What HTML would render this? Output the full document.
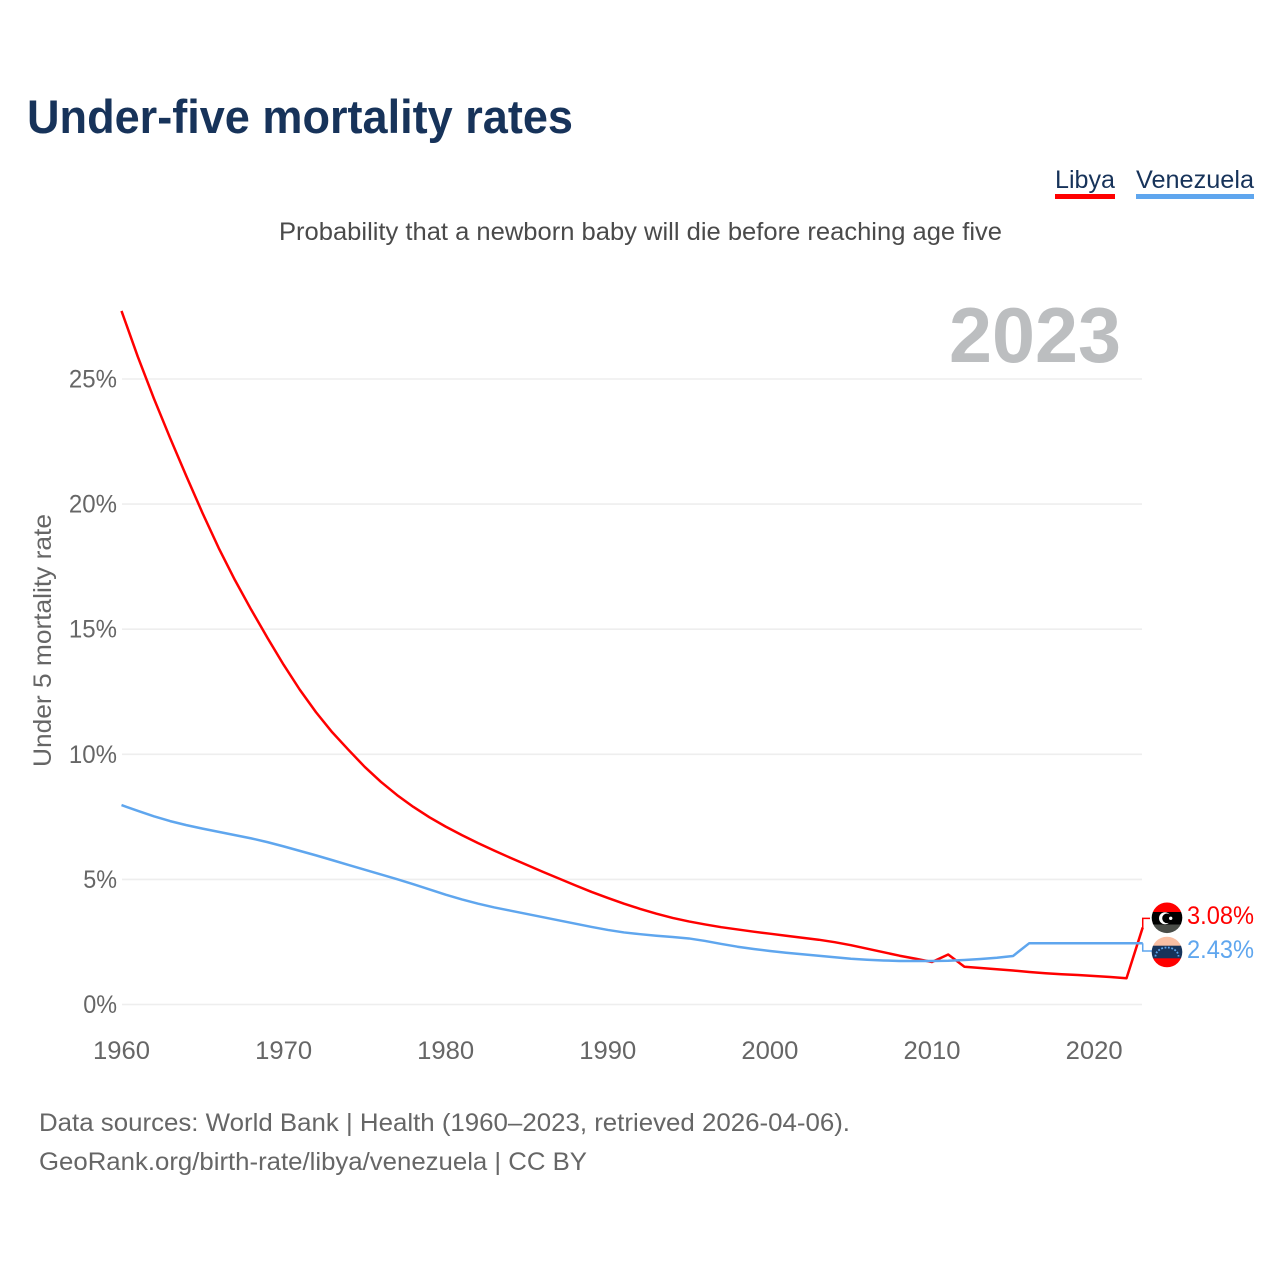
<!DOCTYPE html>
<html lang="en">
<head>
<meta charset="utf-8">
<title>Under-five mortality rates</title>
<style>
html,body{margin:0;padding:0;background:#fff;}
svg{display:block;font-family:"Liberation Sans",sans-serif;}
</style>
</head>
<body>
<svg id="chart" xmlns="http://www.w3.org/2000/svg" width="1280" height="1280" viewBox="0 0 1280 1280">
  <defs>
    <clipPath id="flag-clip-a"><circle cx="1167" cy="917.8" r="15.3"/></clipPath>
    <clipPath id="flag-clip-b"><circle cx="1167" cy="952" r="15.3"/></clipPath>
  </defs>
  <rect width="1280" height="1280" fill="#fff"/>
  <text x="27" y="133" font-size="47" font-weight="700" fill="#17335a" textLength="546" lengthAdjust="spacingAndGlyphs">Under-five mortality rates</text>
  <text x="279" y="240" font-size="25" fill="#4a4a4a" textLength="723" lengthAdjust="spacingAndGlyphs">Probability that a newborn baby will die before reaching age five</text>

  <g>
    <text x="1055" y="188" font-size="25" fill="#17335a" textLength="60" lengthAdjust="spacingAndGlyphs">Libya</text>
    <rect x="1055" y="194" width="60" height="5" fill="#ff0000"/>
  </g>
  <g>
    <text x="1136" y="188" font-size="25" fill="#17335a" textLength="118" lengthAdjust="spacingAndGlyphs">Venezuela</text>
    <rect x="1136" y="194" width="118" height="5" fill="#5fa6ee"/>
  </g>

  <text x="949" y="362" font-size="78" font-weight="700" fill="#bcbec0" textLength="172" lengthAdjust="spacingAndGlyphs">2023</text>
  <text transform="translate(51,767) rotate(-90)" font-size="25" fill="#666" textLength="253" lengthAdjust="spacingAndGlyphs">Under 5 mortality rate</text>

  <g id="grid"></g>
  <g id="yticks"></g>
  <g id="xticks"></g>
  <g id="series"></g>

  <g clip-path="url(#flag-clip-a)">
    <rect x="1151" y="902" width="32" height="10" fill="#ff0000"/>
    <rect x="1151" y="912" width="32" height="13" fill="#000"/>
    <rect x="1151" y="924.5" width="32" height="10" fill="#4a4d48"/>
    <circle cx="1165" cy="918.3" r="6" fill="#fff"/>
    <circle cx="1167" cy="918.3" r="4.8" fill="#000"/>
    <circle cx="1170.7" cy="918.3" r="1.7" fill="#fff"/>
  </g>
  <g clip-path="url(#flag-clip-b)">
    <rect x="1151" y="936" width="32" height="10" fill="#f9bfa3"/>
    <rect x="1151" y="945.7" width="32" height="12.8" fill="#17335a"/>
    <rect x="1151" y="958.3" width="32" height="10" fill="#ff0000"/>
    <path d="M1155.5 956.5 A11.5 9 0 0 1 1178.5 956.5" fill="none" stroke="#5fa6ee" stroke-width="1.8" stroke-dasharray="1.8 1.6"/>
  </g>
  <text id="label-libya" x="1187" y="924" font-size="25" fill="#ff0000" textLength="67" lengthAdjust="spacingAndGlyphs"></text>
  <text id="label-venezuela" x="1187" y="958" font-size="25" fill="#5fa6ee" textLength="67" lengthAdjust="spacingAndGlyphs"></text>

  <text x="39" y="1131" font-size="25" fill="#666" textLength="811" lengthAdjust="spacingAndGlyphs">Data sources: World Bank | Health (1960–2023, retrieved 2026-04-06).</text>
  <text x="39" y="1170" font-size="25" fill="#666" textLength="548" lengthAdjust="spacingAndGlyphs">GeoRank.org/birth-rate/libya/venezuela | CC BY</text>
</svg>
<script>
const startYear = 1960;
const libyaValues = [27.72,25.9,24.22,22.64,21.12,19.64,18.24,16.96,15.78,14.66,13.58,12.58,11.68,10.88,10.18,9.5,8.9,8.37,7.9,7.48,7.11,6.77,6.45,6.15,5.86,5.58,5.3,5.03,4.76,4.5,4.26,4.03,3.82,3.63,3.46,3.32,3.2,3.09,3.0,2.91,2.83,2.75,2.67,2.59,2.49,2.37,2.23,2.09,1.95,1.83,1.7,2.0,1.51,1.46,1.41,1.36,1.3,1.25,1.21,1.18,1.14,1.1,1.05,3.08];
const venezuelaValues = [7.97,7.74,7.52,7.33,7.17,7.03,6.9,6.77,6.64,6.49,6.32,6.14,5.96,5.77,5.58,5.39,5.2,5.01,4.81,4.6,4.39,4.2,4.03,3.88,3.75,3.62,3.49,3.36,3.23,3.1,2.98,2.88,2.81,2.75,2.7,2.64,2.54,2.42,2.31,2.22,2.14,2.07,2.01,1.95,1.89,1.83,1.79,1.76,1.74,1.74,1.74,1.75,1.78,1.82,1.87,1.94,2.45,2.45,2.45,2.45,2.45,2.45,2.45,2.45];
const yTickValues = [0,5,10,15,20,25];
const xTickValues = [1960,1970,1980,1990,2000,2010,2020];
const libyaLabel = "3.08%";
const venezuelaLabel = "2.43%";

const NS = "http://www.w3.org/2000/svg";
function xScale(year){ return 121.5 + (year - 1960) * 16.21; }
function yScale(v){ return 1004.5 - v * 25.02; }
function make(tag, attrs, parent){
  const el = document.createElementNS(NS, tag);
  for (const k in attrs) el.setAttribute(k, attrs[k]);
  parent.appendChild(el);
  return el;
}
const grid = document.getElementById("grid");
const yticks = document.getElementById("yticks");
const xticks = document.getElementById("xticks");
const series = document.getElementById("series");

yTickValues.forEach(function(v){
  const line = make("line", {x1:122, x2:1142, y1:yScale(v), y2:yScale(v), stroke:"#eeeeee", "stroke-width":1.6}, grid);
  
  
  const t = make("text", {x:117, y:yScale(v)+8.5, "font-size":25, fill:"#666", "text-anchor":"end", textLength:String(v).length*14.3+19.5, lengthAdjust:"spacingAndGlyphs"}, yticks);
  
  
  t.textContent = v + "%";
});
xTickValues.forEach(function(y){
  const t = make("text", {x:xScale(y), y:1059, "font-size":25, fill:"#666", "text-anchor":"middle", textLength:57, lengthAdjust:"spacingAndGlyphs"}, xticks);
  
  
  t.textContent = y;
});
function pathFrom(values){
  return values.map(function(v,i){
    return (i ? "L" : "M") + xScale(startYear + i).toFixed(2) + " " + yScale(v).toFixed(2);
  }).join(" ");
}
const common = {fill:"none", "stroke-width":2.5, "stroke-linejoin":"round"};
const libyaLine = make("path", Object.assign({d:pathFrom(libyaValues), stroke:"#ff0000"}, common), series);


const venLine = make("path", Object.assign({d:pathFrom(venezuelaValues), stroke:"#5fa6ee"}, common), series);



const endX = xScale(startYear + libyaValues.length - 1);
const libyaEnd = yScale(libyaValues[libyaValues.length - 1]);
const venEnd = yScale(venezuelaValues[venezuelaValues.length - 1]);
const libyaLeader = make("path", {d:"M"+endX+" "+libyaEnd+" V918.4 H1150", fill:"none", stroke:"#ff0000", "stroke-width":1.5}, series);


const venLeader = make("path", {d:"M"+endX+" "+venEnd+" V951 H1152", fill:"none", stroke:"#5fa6ee", "stroke-width":1.5}, series);



document.getElementById("label-libya").textContent = libyaLabel;
document.getElementById("label-venezuela").textContent = venezuelaLabel;
</script>
</body>
</html>
